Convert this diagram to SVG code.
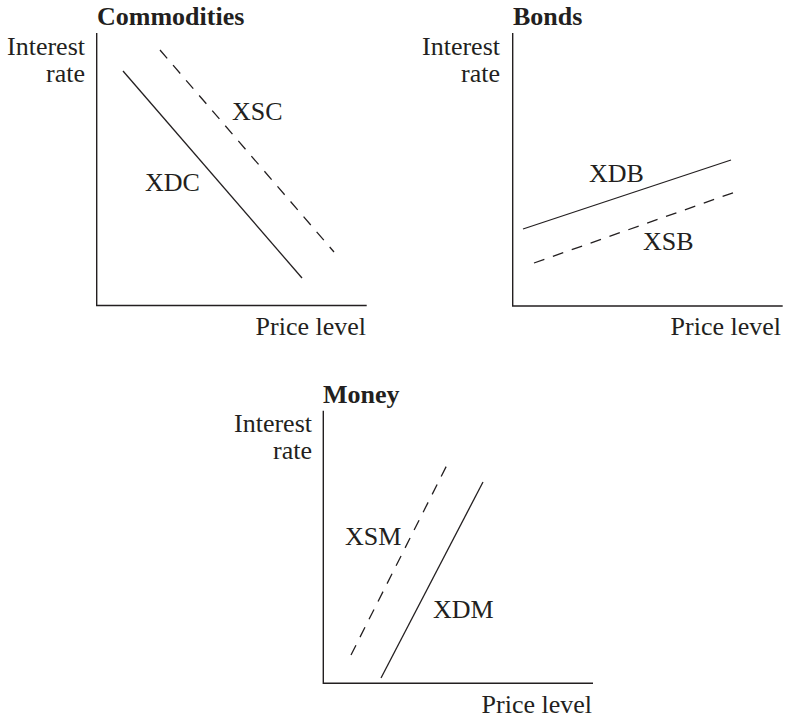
<svg xmlns="http://www.w3.org/2000/svg" width="790" height="717" viewBox="0 0 790 717" style="font-family:'Liberation Serif','Times New Roman',Times,serif">
<defs>
<style>
.lbl{font-family:'Liberation Serif','Times New Roman',Times,serif;font-size:26px;fill:#231f20}
.ttl{font-weight:bold}
.end{text-anchor:end}
.ax{stroke:#231f20;stroke-width:1.4;fill:none}
.sl{stroke:#231f20;stroke-width:1.3;fill:none}
.dl{stroke:#231f20;stroke-width:1.3;fill:none;stroke-dasharray:11 9}
</style>
</defs>
<rect width="790" height="717" fill="#fff"/>
<g id="commodities">
<text class="lbl ttl" x="97" y="25">Commodities</text>
<text class="lbl end" x="85" y="55">Interest</text>
<text class="lbl end" x="85" y="82">rate</text>
<path class="ax" d="M96.7,33 V305.5 H366.7"/>
<text class="lbl end" x="366" y="335">Price level</text>
<text class="lbl" x="145" y="191">XDC</text>
<text class="lbl" x="232" y="120">XSC</text>
</g>
<g id="bonds">
<text class="lbl ttl" x="513" y="25">Bonds</text>
<text class="lbl end" x="500" y="55">Interest</text>
<text class="lbl end" x="500" y="82">rate</text>
<path class="ax" d="M512.7,33 V306 H782.7"/>
<text class="lbl end" x="781" y="335">Price level</text>
<text class="lbl" x="589" y="182">XDB</text>
<text class="lbl" x="643" y="250">XSB</text>
</g>
<g id="money">
<text class="lbl ttl" x="323" y="403">Money</text>
<text class="lbl end" x="312" y="432">Interest</text>
<text class="lbl end" x="312" y="459">rate</text>
<path class="ax" d="M323.3,410.7 V683.3 H593"/>
<text class="lbl end" x="592" y="712.5">Price level</text>
<text class="lbl" x="345" y="545">XSM</text>
<text class="lbl" x="433" y="618">XDM</text>
</g>
<g id="connectors">
<line class="sl" x1="123" y1="71" x2="302" y2="278"/>
<line class="dl" x1="160" y1="50" x2="334" y2="252"/>
<line class="sl" x1="523" y1="229" x2="731" y2="160"/>
<line class="dl" x1="534" y1="263" x2="741" y2="190"/>
<line class="sl" x1="381" y1="678" x2="483" y2="482"/>
<line class="dl" x1="351" y1="655" x2="449" y2="461"/>
</g>
</svg>
